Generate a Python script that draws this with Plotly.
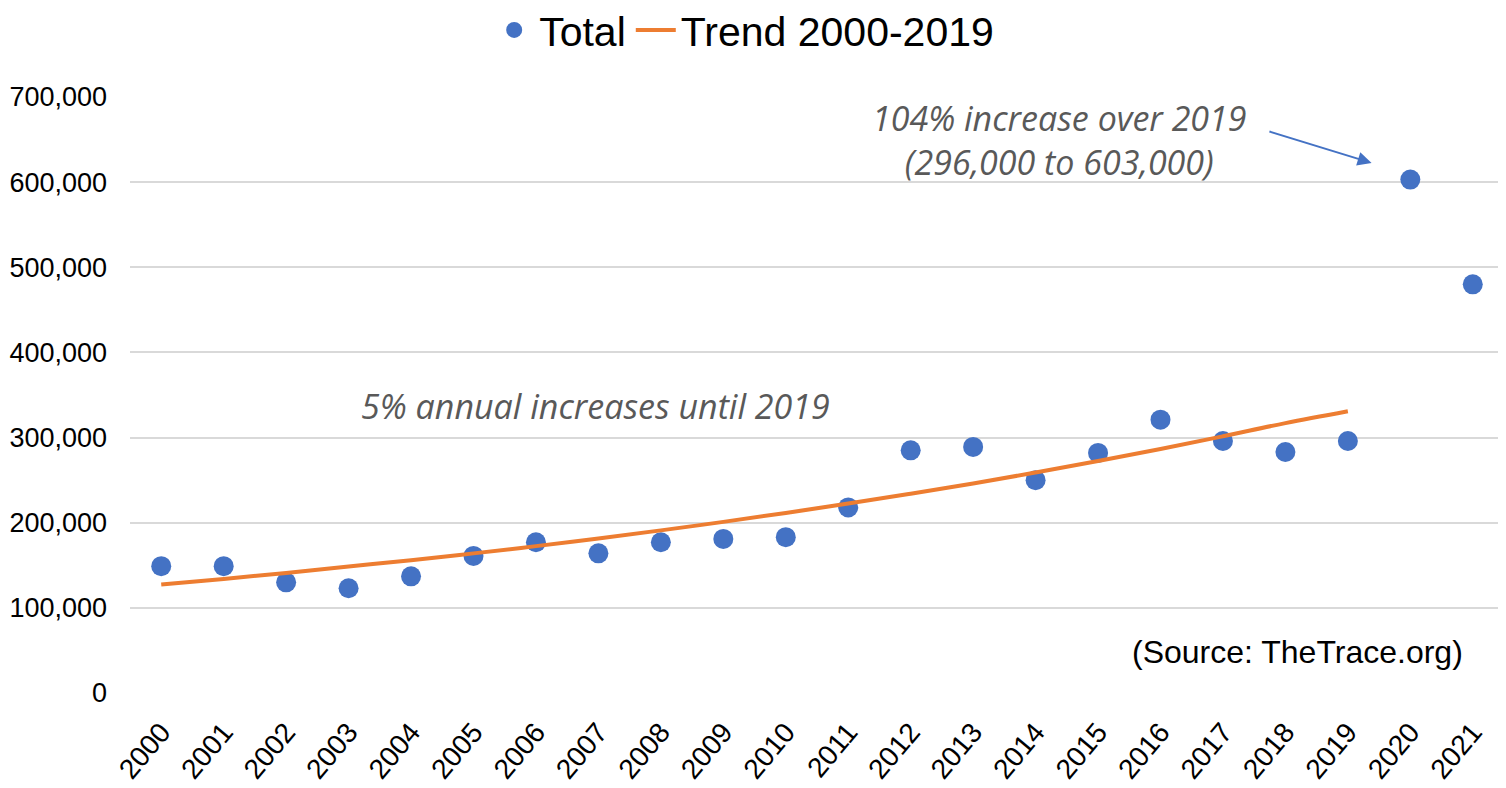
import plotly.graph_objects as go

years = list(range(2000, 2022))
totals = [149000, 149000, 130000, 123000, 137000, 161000, 177000, 164000, 177000, 181000,
          183000, 218000, 285000, 289000, 250000, 282000, 321000, 296000, 283000, 296000,
          603000, 480000]

trend_years = list(range(2000, 2020))
trend_vals = [127500, 134000, 141000, 148500, 156000, 164000, 172500, 181500, 191000, 201000,
              211500, 222500, 234000, 246000, 259000, 272500, 286500, 301500, 317000, 331000]

y_ticks = [0, 100000, 200000, 300000, 400000, 500000, 600000, 700000]

blue = "#4472C4"
orange = "#ED7D31"

fig = go.Figure()
fig.add_trace(go.Scatter(x=years, y=totals, mode="markers", name="Total",
                         marker=dict(color=blue, size=20)))
fig.add_trace(go.Scatter(x=trend_years, y=trend_vals, mode="lines", name="Trend 2000-2019",
                         line=dict(color=orange, width=4, shape="spline")))

# page body adds an 8px offset, so the figure is sized to fill what is left
fig.update_layout(
    width=1498, height=780,
    margin=dict(l=122, r=2, t=89, b=95, autoexpand=False),
    plot_bgcolor="white", paper_bgcolor="white",
    font=dict(family="Liberation Sans, Arial", color="black"),
    legend=dict(orientation="h", x=0.447, xanchor="center", y=1.112, yanchor="middle",
                font=dict(size=41), itemwidth=40, traceorder="normal"),
    showlegend=True,
)
fig.update_xaxes(range=[1999.5, 2021.5], tickvals=years, ticktext=[str(y) for y in years],
                 tickangle=-50, tickfont=dict(size=28), showgrid=False, zeroline=False,
                 showline=False, ticks="", automargin=False, ticklabelstandoff=16)
fig.update_yaxes(range=[0, 700000], tickvals=y_ticks,
                 ticktext=["0" if v == 0 else f"{v:,}" for v in y_ticks],
                 tickfont=dict(size=27), gridcolor="#d9d9d9", gridwidth=1.5,
                 zeroline=False, showline=False, ticks="", automargin=False,
                 ticklabelstandoff=22)

note_font = dict(family="Open Sans, Noto Sans", size=34, color="#595959")
fig.add_annotation(x=2014.39, y=649500, text="<i>104% increase over 2019<br>(296,000 to 603,000)</i>",
                   showarrow=False, font=note_font, align="center")
fig.add_annotation(x=2019.38, y=622500, ax=2017.72, ay=660000, axref="x", ayref="y",
                   text="", showarrow=True, arrowhead=2, arrowsize=1.4, arrowwidth=2,
                   arrowcolor=blue)
fig.add_annotation(x=2006.96, y=337000, text="<i>5% annual increases until 2019</i>",
                   showarrow=False, font=note_font)
fig.add_annotation(x=2018.2, y=48000, text="(Source: TheTrace.org)", showarrow=False,
                   font=dict(family="Liberation Sans, Arial", size=32, color="black"))

fig.write_html("out.html")
